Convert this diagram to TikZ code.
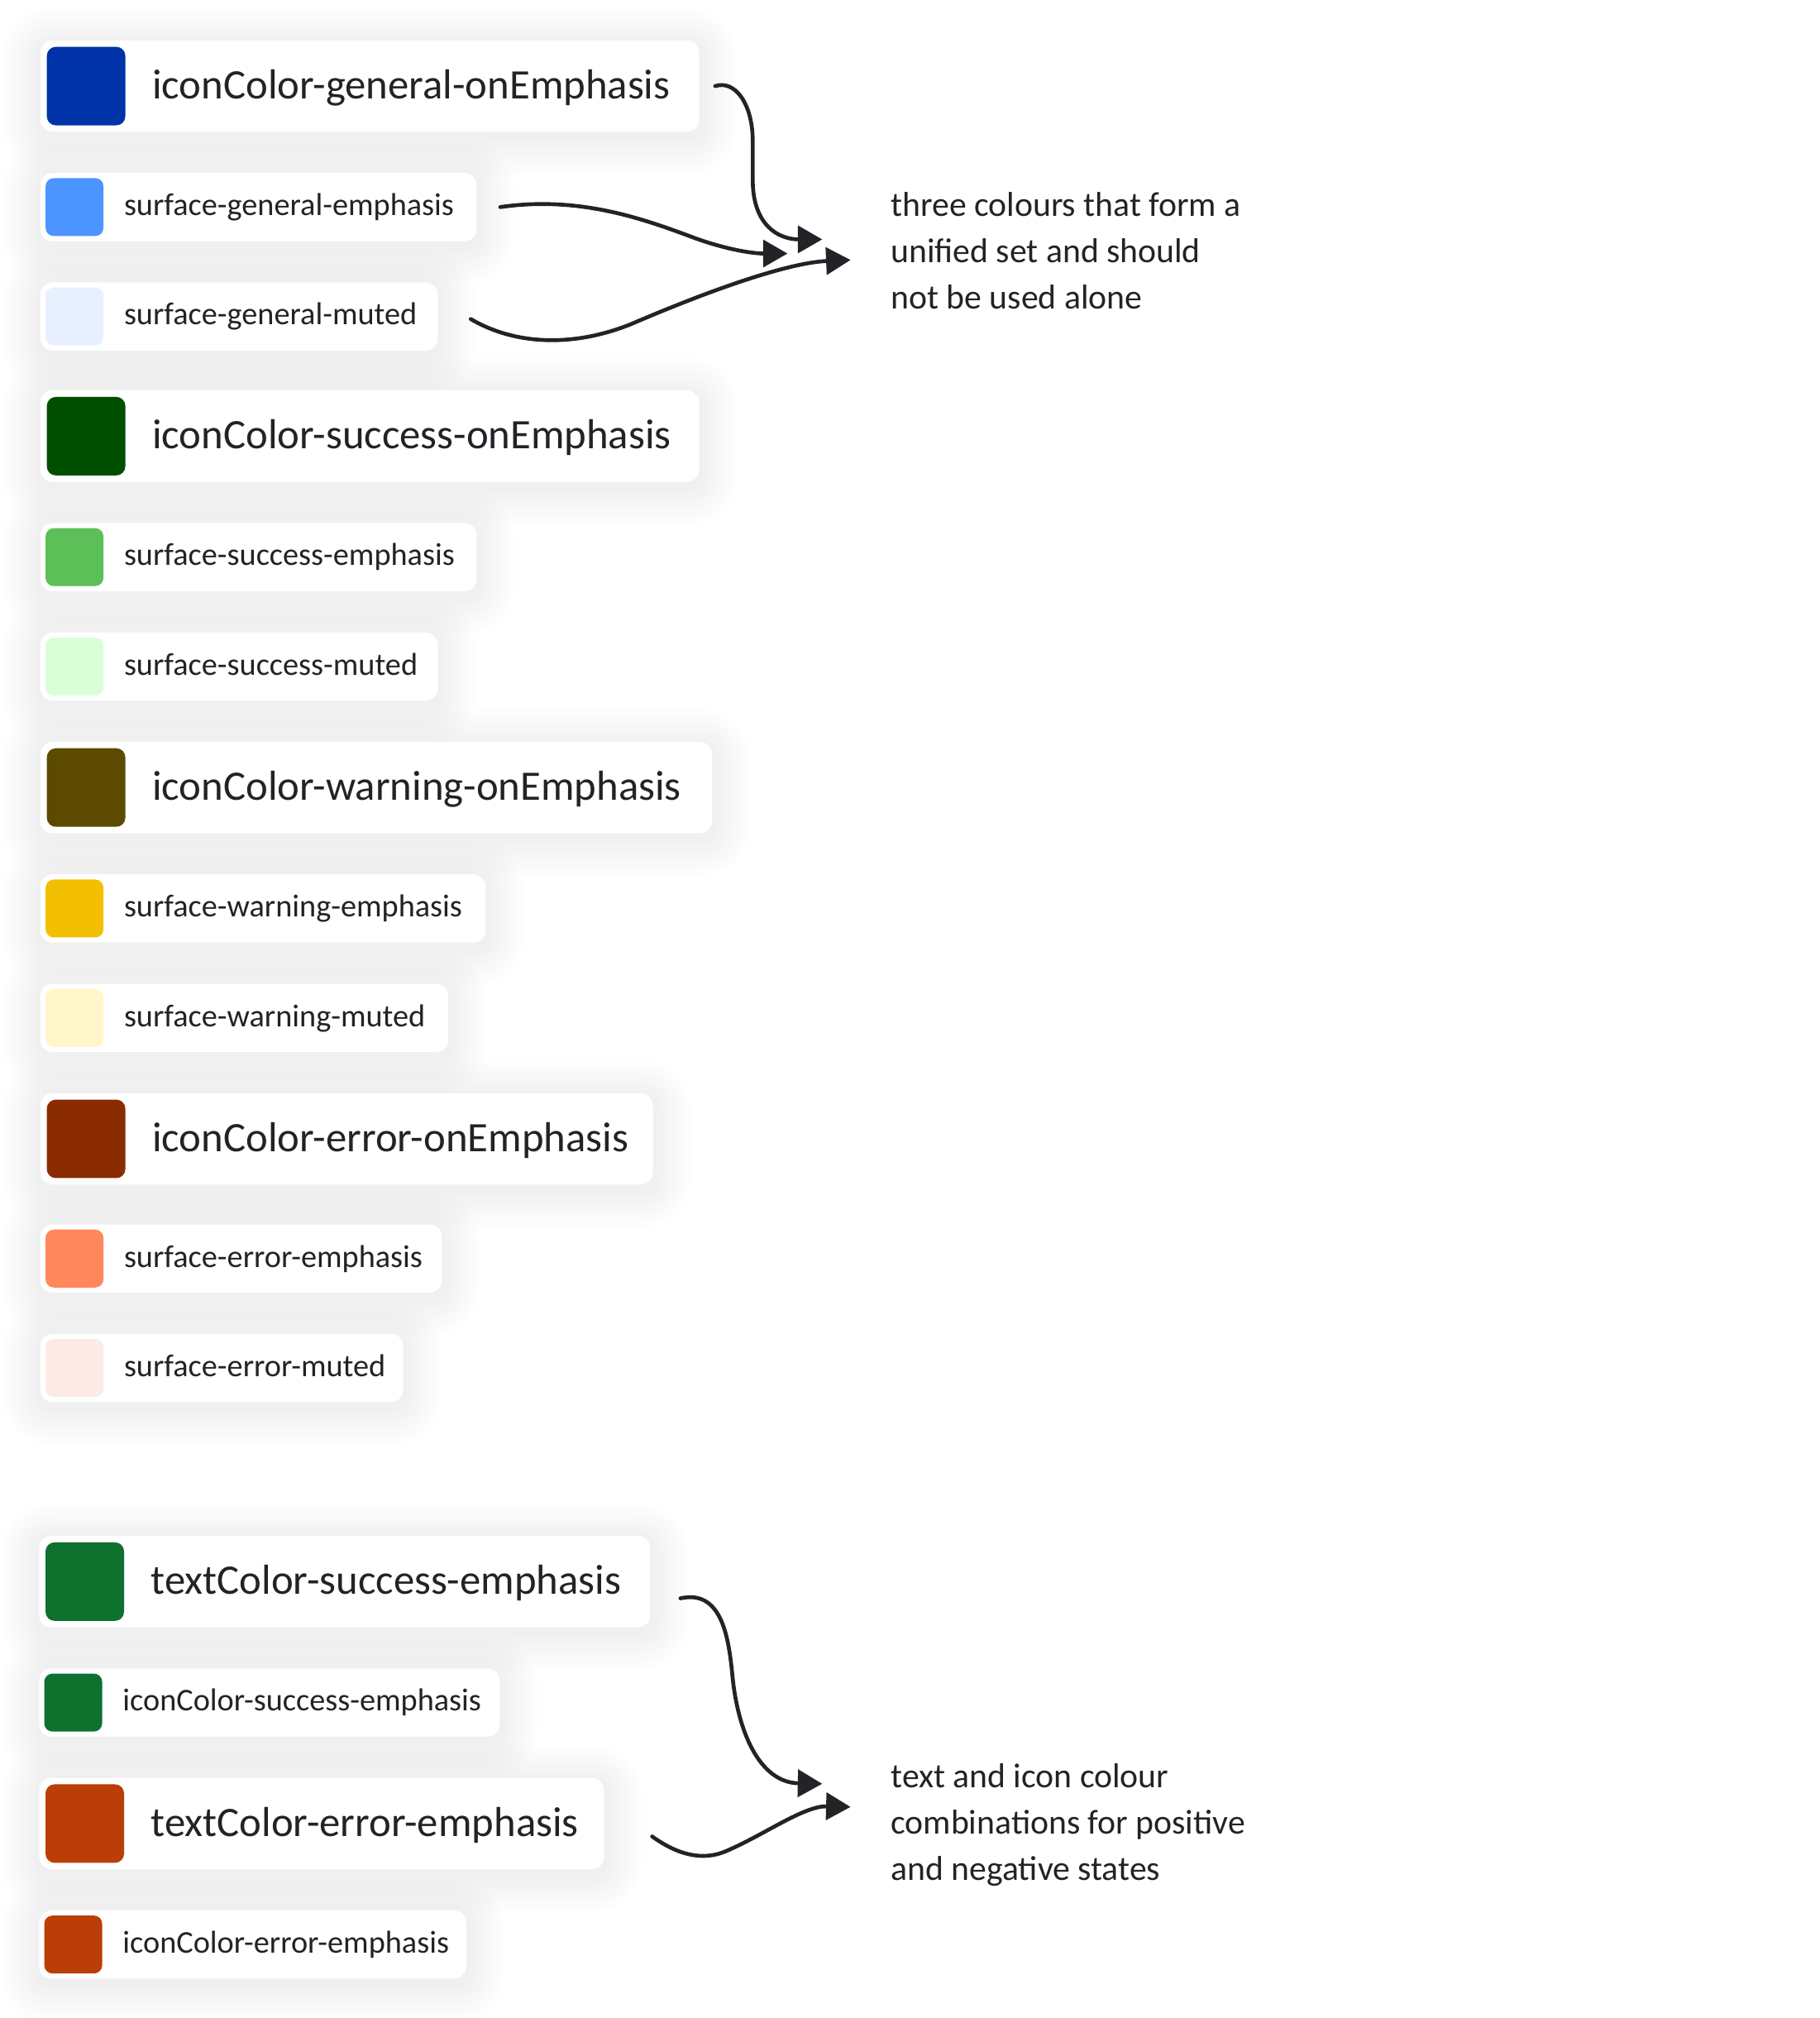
\documentclass[tikz,border=0pt]{standalone}
\usepackage{fontspec}
\setmainfont{Carlito}
\usetikzlibrary{arrows.meta,backgrounds}
\definecolor{ink}{HTML}{232226}
\definecolor{genOn}{HTML}{0033A8}
\definecolor{genEm}{HTML}{4C94FF}
\definecolor{genMu}{HTML}{E8F0FF}
\definecolor{sucOn}{HTML}{004F00}
\definecolor{sucEm}{HTML}{5CBF57}
\definecolor{sucMu}{HTML}{D9FFD6}
\definecolor{warOn}{HTML}{5C4A00}
\definecolor{warEm}{HTML}{F2C000}
\definecolor{warMu}{HTML}{FFF6CC}
\definecolor{errOn}{HTML}{8A2C00}
\definecolor{errEm}{HTML}{FF875B}
\definecolor{errMu}{HTML}{FCEBE5}
\definecolor{sucTx}{HTML}{0E712E}
\definecolor{errTx}{HTML}{BB3D08}
\tikzset{
  card/.style={fill=white, rounded corners=4.8pt, inner sep=0pt},
  shadowlayer/.style={fill=black, fill opacity=0.0055},
  bigsw/.style={minimum size=30.5pt, inner sep=0pt, rounded corners=3.5pt},
  smallsw/.style={minimum size=22.5pt, inner sep=0pt, rounded corners=3.2pt},
  bigtxt/.style={font=\fontsize{16.3}{19}\selectfont, text=ink, inner sep=0pt},
  smalltxt/.style={font=\fontsize{12.3}{14}\selectfont, text=ink, inner sep=0pt},
  note/.style={font=\fontsize{13.4}{18}\selectfont, text=ink, align=left, inner sep=0pt},
  link/.style={draw=ink, line width=1.5pt, -{Triangle[length=9.5pt,width=10.5pt]}, line cap=round},
}
\newcommand\cardshadow[1]{%
  \begin{scope}[on background layer]
  \foreach \k in {1,...,15}{%
    \pgfmathsetmacro\rr{4.8+1.0*\k}
    \fill[shadowlayer, rounded corners=\rr pt]
      ([shift={(-1.0*\k pt,-1.0*\k pt-2pt)}]#1.south west) rectangle
      ([shift={(1.0*\k pt,1.0*\k pt-2pt)}]#1.north east);
  }
  \end{scope}}
\newcommand\bigentry[6]{%
  \node[card, minimum width={(#4-#2)*0.5pt}, minimum height=35.5pt, anchor=north west] (#1) at (#2,#3) {};
  \cardshadow{#1}
  \node[bigsw, fill=#5, anchor=west] (#1-sw) at ([xshift=2.5pt]#1.west) {};
  \node[bigtxt, anchor=base west] (#1-txt) at ([xshift=43.5pt,yshift=-5pt]#1.west) {#6};
}
\newcommand\smallentry[6]{%
  \node[card, minimum width={(#4-#2)*0.5pt}, minimum height=26.5pt, anchor=north west] (#1) at (#2,#3) {};
  \cardshadow{#1}
  \node[smallsw, fill=#5, anchor=west] (#1-sw) at ([xshift=2pt]#1.west) {};
  \node[smalltxt, anchor=base west] (#1-txt) at ([xshift=32.5pt,yshift=-3.3pt]#1.west) {#6};
}
\begin{document}
\begin{tikzpicture}[x=0.5pt,y=-0.5pt]
\begin{scope}[on background layer]
\fill[white] (0,0) rectangle (1414,1568);
\end{scope}
\useasboundingbox (0,0) rectangle (1414,1568);

\bigentry{c1}{31}{31}{543}{genOn}{iconColor-general-onEmphasis}
\smallentry{c2}{31}{134}{370}{genEm}{surface-general-emphasis}
\smallentry{c3}{31}{219}{340}{genMu}{surface-general-muted}
\bigentry{c4}{31}{303}{543}{sucOn}{iconColor-success-onEmphasis}
\smallentry{c5}{31}{406}{370}{sucEm}{surface-success-emphasis}
\smallentry{c6}{31}{491}{340}{sucMu}{surface-success-muted}
\bigentry{c7}{31}{576}{553}{warOn}{iconColor-warning-onEmphasis}
\smallentry{c8}{31}{679}{377}{warEm}{surface-warning-emphasis}
\smallentry{c9}{31}{764}{348}{warMu}{surface-warning-muted}
\bigentry{c10}{31}{849}{507}{errOn}{iconColor-error-onEmphasis}
\smallentry{c11}{31}{951}{343}{errEm}{surface-error-emphasis}
\smallentry{c12}{31}{1036}{313}{errMu}{surface-error-muted}

\bigentry{d1}{30}{1193}{505}{sucTx}{textColor-success-emphasis}
\smallentry{d2}{30}{1296}{388}{sucTx}{iconColor-success-emphasis}
\bigentry{d3}{30}{1381}{469}{errTx}{textColor-error-emphasis}
\smallentry{d4}{30}{1484}{362}{errTx}{iconColor-error-emphasis}

\node[note, anchor=base west] (n1) at (692,240) {three colours that form a\\unified set and should\\not be used alone};
\node[note, anchor=base west] (n2) at (692,1461) {text and icon colour\\combinations for positive\\and negative states};

\coordinate (e1) at (639,186);
\coordinate (e2) at (612,197);
\coordinate (e3) at (661,202);
\coordinate (e4) at (639,1386);
\coordinate (e5) at (661,1404);

\draw[link] ([xshift=6pt]c1.east) .. controls +(15,-5) and (585,80) .. (585,110)
  -- (585,140) .. controls (585,175) and (605,186) .. (e1);
\draw[link] ([xshift=9pt]c2.east) .. controls (450,152) and (500,170) .. (540,185)
  .. controls (565,194) and (585,197) .. (e2);
\draw[link] ([xshift=12.5pt,yshift=-1pt]c3.east) .. controls (400,268) and (445,270) .. (490,252)
  .. controls (560,222) and (615,204) .. (e3);
\draw[link] ([xshift=11.5pt,yshift=-6.5pt]d1.east) .. controls (560,1235) and (566,1270) .. (569,1300)
  .. controls (573,1345) and (590,1385) .. (e4);
\draw[link] ([xshift=18.5pt,yshift=-5pt]d3.east) .. controls (525,1440) and (545,1447) .. (565,1438)
  .. controls (595,1425) and (625,1403) .. (e5);
\end{tikzpicture}
\end{document}
